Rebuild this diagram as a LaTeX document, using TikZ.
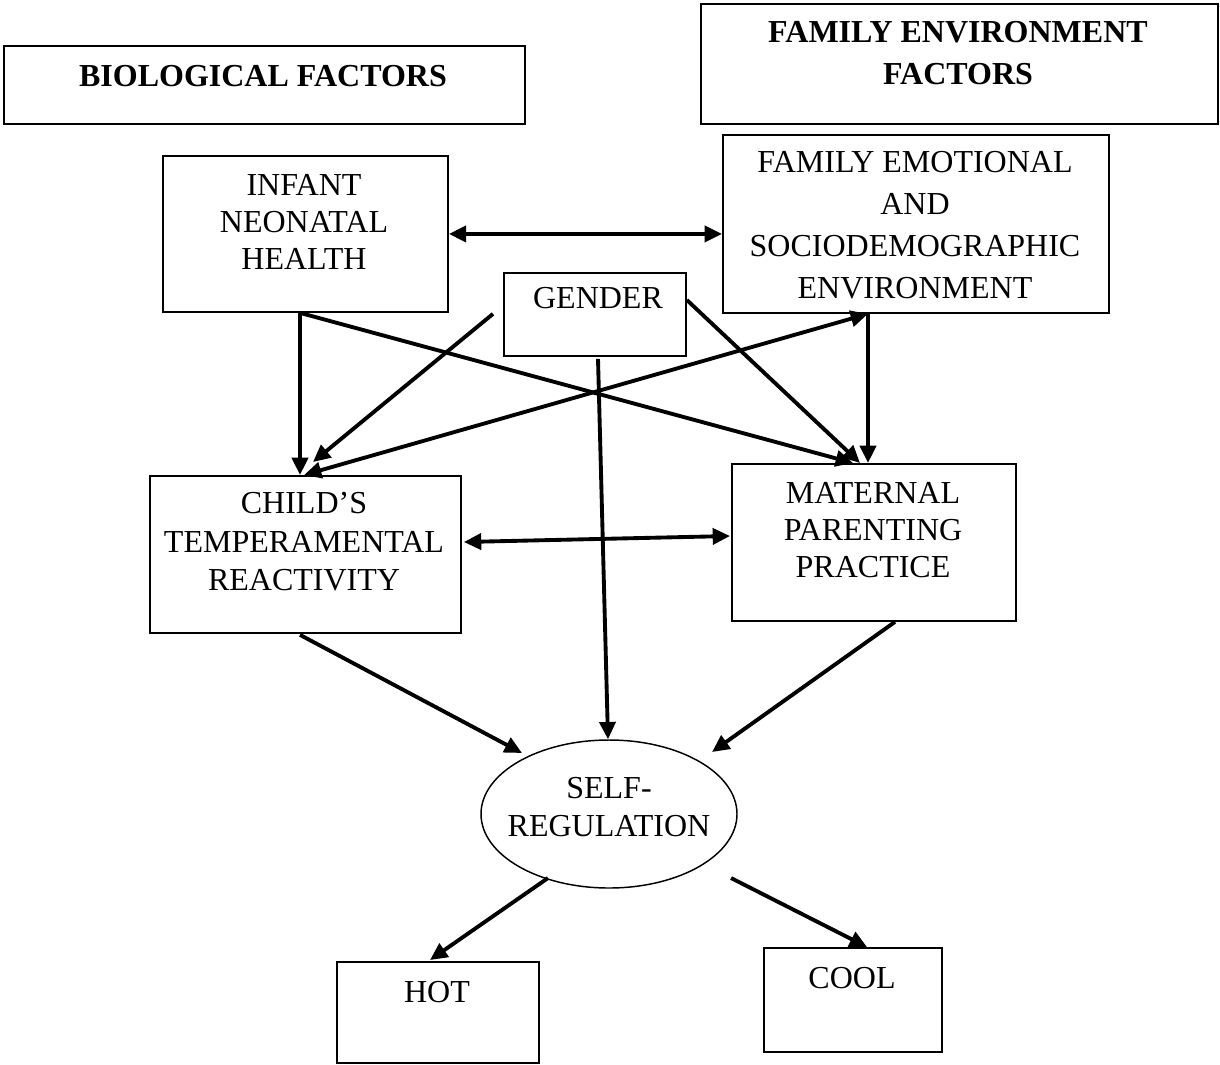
\documentclass[tikz,border=0pt]{standalone}
\usepackage{fontspec}
\setmainfont{Liberation Serif}
\usetikzlibrary{arrows.meta,shapes.geometric,calc}
\tikzset{
  boxnode/.style={draw, line width=1.4pt, fill=white, inner sep=0pt, anchor=north west},
  lbl/.style={inner sep=0pt, anchor=north, align=center},
  arr/.style={line width=2.9pt, -{Triangle[length=13pt,width=12pt]}},
  darr/.style={line width=2.9pt, {Triangle[length=13pt,width=12pt]}-{Triangle[length=13pt,width=12pt]}}
}
\begin{document}
\begin{tikzpicture}[x=0.75pt,y=-0.75pt]
\useasboundingbox (0,0) rectangle (1220,1064);
% boxes
\node[boxnode, minimum width=390.75pt, minimum height=58.5pt] (bio) at (3,45) {};
\node[boxnode, minimum width=387.75pt, minimum height=90pt] (famenv) at (700,3) {};
\node[boxnode, minimum width=213.75pt, minimum height=117pt] (infant) at (162,155) {};
\node[boxnode, minimum width=289.5pt, minimum height=133.5pt] (famemo) at (722,134) {};
\node[boxnode, minimum width=136.5pt, minimum height=62.25pt] (gender) at (503,272) {};
\node[boxnode, minimum width=233.25pt, minimum height=117.75pt] (child) at (149,475) {};
\node[boxnode, minimum width=213pt, minimum height=117.75pt] (maternal) at (731,463) {};
\node[boxnode, minimum width=151.5pt, minimum height=75.75pt] (hot) at (336,961) {};
\node[boxnode, minimum width=133.5pt, minimum height=78pt] (cool) at (763,947) {};
\node[draw, ellipse, line width=1.1pt, fill=white, inner sep=0pt, minimum width=192pt, minimum height=111pt] (self) at (609,814) {};
% texts
\node[lbl, font=\fontsize{24}{28}\selectfont\bfseries] (biot) at (263,65) {BIOLOGICAL FACTORS};
\node[lbl, font=\fontsize{24}{31.5}\selectfont\bfseries] (famenvt) at (958,21) {FAMILY ENVIRONMENT\\FACTORS};
\node[lbl, font=\fontsize{24}{27.75}\selectfont] (infantt) at (304,174) {INFANT\\NEONATAL\\HEALTH};
\node[lbl, font=\fontsize{24}{31.5}\selectfont] (famemot) at (915,151) {FAMILY EMOTIONAL\\AND\\SOCIODEMOGRAPHIC\\ENVIRONMENT};
\node[lbl, font=\fontsize{24}{28}\selectfont] (gendert) at (598,287) {GENDER};
\node[lbl, font=\fontsize{24}{28.9}\selectfont] (childt) at (304,492) {CHILD’S\\TEMPERAMENTAL\\REACTIVITY};
\node[lbl, font=\fontsize{24}{27.75}\selectfont] (maternalt) at (873,482) {MATERNAL\\PARENTING\\PRACTICE};
\node[lbl, font=\fontsize{24}{28.5}\selectfont] (selft) at (609,777) {SELF-\\REGULATION};
\node[lbl, font=\fontsize{24}{28}\selectfont] (hott) at (437,981) {HOT};
\node[lbl, font=\fontsize{24}{28}\selectfont] (coolt) at (852,967) {COOL};
% connectors
\draw[darr] (infant.east) -- (infant.east -| famemo.west);
\draw[arr] ($(infant.south west)+(138,0)$) -- ($(child.north west)+(151,0)$);
\draw[arr] ($(infant.south west)+(138,0)$) -- ($(maternal.north west)+(122,0)$);
\draw[darr] ($(famemo.south west)+(146,0)$) -- ($(child.north west)+(155,0)$);
\draw[arr] ($(famemo.south west)+(146,0)$) -- ($(maternal.north west)+(137,0)$);
\draw[arr] ($(gender.south west)+(-10,-43)$) -- ($(child.north west)+(164,-13)$);
\draw[arr] ($(gender.north east)+(0,28)$) -- ($(maternal.north west)+(129,0)$);
\draw[arr] ($(gender.south west)+(95,2)$) -- ($(self.north)+(-1,0)$);
\draw[arr] ($(child.south west)+(151,1)$) -- ($(self.center)+(-87,-61)$);
\draw[arr] ($(maternal.south west)+(164,0)$) -- ($(self.center)+(103,-62)$);
\draw[arr] ($(self.center)+(-61,64)$) -- ($(hot.north west)+(94,-1)$);
\draw[arr] ($(self.center)+(122,64)$) -- ($(cool.north west)+(104,0)$);
\draw[darr] ($(child.north east)+(2,67)$) -- ($(maternal.north west)+(-1,73)$);
\end{tikzpicture}
\end{document}
